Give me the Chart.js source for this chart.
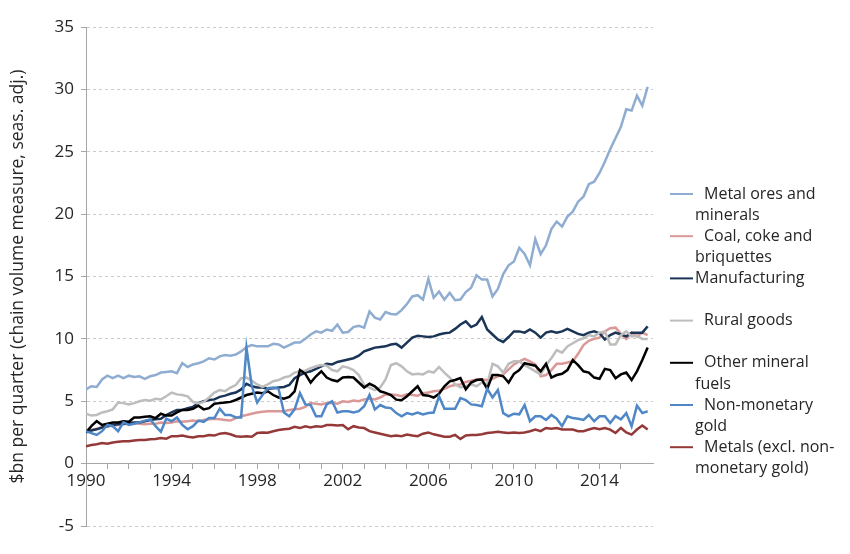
<!DOCTYPE html>
<html>
<head>
<meta charset="utf-8">
<title>Exports by commodity</title>
<script src="https://cdn.jsdelivr.net/npm/chart.js@4.4.0/dist/chart.umd.min.js"></script>
<style>
    html, body { margin: 0; padding: 0; background: #fff; }
</style>
</head>
<body>
<canvas id="exportsChart" width="850" height="554"></canvas>
<script>
// Quarterly series, 1990 Q1 to 2016 Q2 ($bn, chain volume, seas. adj.)
const quarters = [];
for (let y = 1990; y <= 2016; y++) {
    for (let q = 1; q <= 4; q++) quarters.push(y + ' Q' + q);
}
quarters.length = 106;

const yearLabels = [1990, 1994, 1998, 2002, 2006, 2010, 2014];

const metalOres = [
    5.95, 6.2, 6.15, 6.75, 7.05, 6.85, 7.05, 6.85, 7.05, 6.95, 7.0, 6.8, 7.0, 7.1, 7.3, 7.35,
    7.4, 7.25, 8.05, 7.75, 7.95, 8.05, 8.2, 8.45, 8.35, 8.6, 8.7, 8.65, 8.75, 9.0, 9.35, 9.5,
    9.4, 9.4, 9.4, 9.6, 9.55, 9.3, 9.5, 9.7, 9.7, 10.0, 10.35, 10.6, 10.5, 10.75, 10.65, 11.15,
    10.5, 10.55, 10.95, 11.05, 10.9, 12.2, 11.7, 11.55, 12.15, 12.0, 11.95, 12.3, 12.8, 13.4,
    13.5, 13.15, 14.8, 13.3, 13.8, 13.15, 13.7, 13.1, 13.15, 13.75, 14.1, 15.1, 14.75, 14.75,
    13.4, 14.0, 15.2, 15.9, 16.2, 17.3, 16.8, 15.9, 18.0, 16.8, 17.5, 18.8, 19.4, 19.0, 19.8,
    20.2, 21.0, 21.4, 22.4, 22.6, 23.3, 24.2, 25.2, 26.1, 27.0, 28.4, 28.3, 29.5, 28.7, 30.2
];
const coal = [
    2.6, 2.7, 2.8, 2.9, 3.0, 3.05, 3.1, 3.15, 3.2, 3.25, 3.2, 3.15, 3.2, 3.2, 3.3, 3.25,
    3.3, 3.4, 3.35, 3.4, 3.45, 3.4, 3.5, 3.55, 3.6, 3.55, 3.5, 3.45, 3.65, 3.8, 3.9, 4.0,
    4.1, 4.15, 4.2, 4.2, 4.2, 4.2, 4.3, 4.35, 4.4, 4.55, 4.85, 4.8, 4.75, 4.85, 4.85, 4.8,
    5.0, 4.95, 5.05, 5.0, 5.15, 5.2, 5.15, 5.3, 5.55, 5.55, 5.5, 5.4, 5.55, 5.5, 5.45, 5.65,
    5.7, 5.8, 5.85, 6.0, 6.2, 6.3, 6.35, 6.55, 6.65, 6.75, 6.75, 6.7, 6.8, 7.0, 7.15, 7.55,
    7.95, 8.2, 8.4, 8.2, 7.95, 7.0, 7.1, 7.5, 8.0, 8.0, 8.1, 8.2, 8.8, 9.5, 9.85, 10.0,
    10.1, 10.6, 10.85, 10.9, 10.4, 10.0, 10.5, 10.2, 10.5, 10.3
];
const manufacturing = [
    2.5, 2.65, 2.75, 2.9, 3.0, 3.1, 3.15, 3.2, 3.25, 3.3, 3.3, 3.4, 3.5, 3.55, 3.6, 3.9,
    4.1, 4.3, 4.3, 4.45, 4.55, 4.85, 5.0, 5.1, 5.15, 5.35, 5.45, 5.6, 5.7, 5.95, 6.4, 6.2,
    6.1, 6.1, 6.0, 6.05, 6.1, 6.15, 6.3, 6.85, 7.1, 7.3, 7.4, 7.6, 7.8, 8.0, 7.95, 8.15,
    8.25, 8.35, 8.45, 8.65, 9.0, 9.15, 9.3, 9.35, 9.4, 9.55, 9.6, 9.3, 9.7, 10.1, 10.25, 10.2,
    10.15, 10.2, 10.35, 10.45, 10.5, 10.8, 11.15, 11.4, 10.95, 11.15, 11.75, 10.75, 10.35, 9.95,
    9.75, 10.15, 10.6, 10.6, 10.5, 10.75, 10.5, 10.1, 10.5, 10.6, 10.5, 10.6, 10.8, 10.6, 10.4,
    10.3, 10.5, 10.6, 10.45, 9.95, 10.3, 10.5, 10.35, 10.2, 10.5, 10.5, 10.5, 11.0
];
const ruralGoods = [
    4.0, 3.85, 3.9, 4.1, 4.2, 4.35, 4.9, 4.85, 4.75, 4.85, 5.0, 5.1, 5.05, 5.2, 5.15, 5.4,
    5.7, 5.55, 5.5, 5.4, 4.95, 4.8, 4.95, 5.3, 5.7, 5.9, 5.8, 6.1, 6.3, 6.85, 6.9, 6.65,
    6.35, 6.15, 6.35, 6.6, 6.7, 6.9, 7.0, 7.3, 7.4, 7.45, 7.65, 7.8, 7.9, 7.85, 7.5, 7.4,
    7.8, 7.7, 7.5, 7.1, 6.3, 6.1, 5.9, 6.1, 6.75, 7.9, 8.05, 7.8, 7.4, 7.15, 7.2, 7.15,
    7.4, 7.3, 7.75, 7.3, 6.9, 6.35, 6.1, 6.2, 6.35, 6.2, 6.5, 6.35, 8.0, 7.8, 7.3, 8.0,
    8.2, 8.2, 7.9, 7.65, 7.4, 7.15, 7.9, 8.45, 9.1, 8.9, 9.4, 9.65, 9.9, 10.05, 10.3, 10.2,
    10.5, 10.6, 9.55, 9.55, 10.3, 10.6, 10.2, 10.25, 10.0, 10.0
];
const otherFuels = [
    2.5, 3.0, 3.4, 3.1, 3.2, 3.3, 3.3, 3.4, 3.35, 3.7, 3.7, 3.75, 3.8, 3.65, 4.0, 3.85,
    3.85, 4.1, 4.3, 4.3, 4.4, 4.65, 4.35, 4.45, 4.8, 4.85, 4.9, 4.95, 5.1, 5.3, 5.5, 5.6,
    5.7, 5.65, 5.8, 5.5, 5.3, 5.2, 5.35, 5.8, 7.5, 7.2, 6.5, 7.0, 7.4, 6.9, 6.7, 6.6,
    6.9, 6.95, 6.9, 6.5, 6.1, 6.4, 6.2, 5.8, 5.67, 5.5, 5.13, 5.08, 5.4, 5.8, 6.2, 5.5,
    5.45, 5.3, 5.6, 6.2, 6.6, 6.7, 6.85, 5.95, 6.5, 6.7, 6.75, 6.0, 7.1, 7.1, 7.0, 6.5,
    7.2, 7.5, 8.05, 7.95, 7.85, 7.4, 8.0, 6.9, 7.1, 7.2, 7.5, 8.3, 7.9, 7.4, 7.3, 6.9,
    6.8, 7.6, 7.5, 6.85, 7.15, 7.3, 6.7, 7.4, 8.3, 9.3
];
const nonMonetaryGold = [
    2.6, 2.45, 2.3, 2.6, 3.1, 3.0, 2.6, 3.3, 3.1, 3.2, 3.3, 3.45, 3.55, 3.0, 2.55, 3.6,
    3.4, 3.7, 3.1, 2.75, 3.0, 3.45, 3.35, 3.65, 3.65, 4.4, 3.9, 3.9, 3.7, 3.7, 9.3, 6.2,
    4.9, 5.5, 6.05, 6.1, 6.0, 4.1, 3.8, 4.35, 5.65, 4.75, 4.7, 3.8, 3.8, 4.75, 5.0, 4.1,
    4.2, 4.2, 4.1, 4.2, 4.6, 5.5, 4.35, 4.7, 4.5, 4.45, 4.05, 3.8, 4.05, 3.95, 4.1, 3.95,
    4.05, 4.1, 5.4, 4.4, 4.4, 4.4, 5.25, 5.1, 4.75, 4.7, 4.6, 6.0, 5.3, 5.9, 4.05, 3.8,
    4.0, 3.95, 4.7, 3.4, 3.8, 3.8, 3.5, 3.9, 3.6, 3.0, 3.8, 3.65, 3.6, 3.5, 3.9, 3.4,
    3.8, 3.8, 3.25, 3.8, 3.55, 4.05, 3.0, 4.65, 4.05, 4.2
];
const metals = [
    1.4, 1.5, 1.55, 1.65, 1.6, 1.7, 1.75, 1.8, 1.8, 1.85, 1.9, 1.9, 1.95, 1.97, 2.05, 2.0,
    2.2, 2.2, 2.25, 2.15, 2.1, 2.2, 2.2, 2.3, 2.25, 2.4, 2.45, 2.35, 2.2, 2.15, 2.2, 2.15,
    2.45, 2.5, 2.48, 2.6, 2.7, 2.75, 2.8, 2.95, 2.85, 3.0, 2.9, 3.0, 2.95, 3.1, 3.1, 3.05,
    3.1, 2.75, 3.0, 2.9, 2.85, 2.6, 2.5, 2.4, 2.3, 2.2, 2.25, 2.2, 2.33, 2.25, 2.2, 2.4,
    2.5, 2.35, 2.25, 2.15, 2.15, 2.3, 1.98, 2.25, 2.3, 2.3, 2.35, 2.45, 2.5, 2.55, 2.5, 2.45,
    2.5, 2.45, 2.5, 2.6, 2.73, 2.6, 2.86, 2.8, 2.86, 2.73, 2.73, 2.73, 2.6, 2.6, 2.73, 2.86,
    2.75, 2.86, 2.73, 2.46, 2.86, 2.5, 2.33, 2.73, 3.05, 2.73
];

const seriesNames = [
    'Metal ores and minerals',
    'Coal, coke and briquettes',
    'Manufacturing',
    'Rural goods',
    'Other mineral fuels',
    'Non-monetary gold',
    'Metals (excl. non-monetary gold)'
];
// how the legend wraps each name
const legendLines = [
    ['Metal ores and', 'minerals'],
    ['Coal, coke and', 'briquettes'],
    ['Manufacturing'],
    ['Rural goods'],
    ['Other mineral', 'fuels'],
    ['Non-monetary', 'gold'],
    ['Metals (excl. non-', 'monetary gold)']
];
const seriesData = [metalOres, coal, manufacturing, ruralGoods, otherFuels, nonMonetaryGold, metals];
const seriesColors = ['#8FACD1', '#DA9896', '#1B3556', '#BDBDBD', '#000000', '#4F87C7', '#953838'];

function quarterToYear(label) {
    const parts = label.split(' Q');
    return Number(parts[0]) + (Number(parts[1]) - 1) / 4;
}

const FONT = 'Open Sans';
const TEXT = '#262626';
const AXIS = '#A6A6A6';

// legend on the right, Excel style
const sideLegend = {
    id: 'sideLegend',
    afterDraw(chart) {
        const ctx = chart.ctx;
        const x0 = chart.chartArea.right + 17;
        ctx.save();
        ctx.font = '16px "' + FONT + '"';
        ctx.fillStyle = TEXT;
        ctx.textBaseline = 'middle';
        legendLines.forEach((lines, i) => {
            const y = 194 + i * 42.2;
            ctx.strokeStyle = seriesColors[i];
            ctx.lineWidth = 2;
            ctx.beginPath();
            ctx.moveTo(x0, y);
            ctx.lineTo(x0 + 23, y);
            ctx.stroke();
            lines.forEach((line, j) => {
                const indent = (j === 0 && i !== 2) ? 9 : 0;
                ctx.fillText(line, x0 + 25 + indent, y + j * 21.5);
            });
        });
        ctx.restore();
    }
};

const ctx = document.getElementById('exportsChart').getContext('2d');

const exportsChart = new Chart(ctx, {
    type: 'line',
    data: {
        datasets: seriesData.map((vals, i) => ({
            label: seriesNames[i],
            data: vals.map((v, k) => ({ x: quarterToYear(quarters[k]), y: v })),
            borderColor: seriesColors[i],
            backgroundColor: seriesColors[i],
            borderWidth: 2.5,
            pointRadius: 0,
            tension: 0,
            order: -i
        }))
    },
    options: {
        responsive: false,
        animation: false,
        layout: { padding: { top: 27, right: 197, bottom: 28, left: 8 } },
        plugins: {
            legend: { display: false },
            tooltip: { enabled: false }
        },
        scales: {
            x: {
                type: 'linear',
                position: { y: 0 },
                min: 1990,
                max: 2016.5,
                afterBuildTicks: (axis) => {
                    axis.ticks = axis.ticks.filter(t => Number.isInteger(t.value));
                },
                ticks: {
                    stepSize: 1,
                    autoSkip: false,
                    maxRotation: 0,
                    padding: 2,
                    color: TEXT,
                    font: { family: FONT, size: 17 },
                    callback: (v) => yearLabels.includes(v) ? String(v) : ''
                },
                grid: { drawOnChartArea: false, drawTicks: true, tickLength: 5, tickColor: AXIS },
                border: { color: AXIS, width: 1 }
            },
            y: {
                min: -5,
                max: 35,
                afterFit: (scale) => { scale.width = 78; },
                ticks: {
                    stepSize: 5,
                    padding: 7,
                    color: TEXT,
                    font: { family: FONT, size: 17 }
                },
                grid: {
                    color: (c) => c.tick && c.tick.value === 0 ? 'rgba(0,0,0,0)' : '#CBCBCB',
                    tickColor: AXIS,
                    tickLength: 5
                },
                border: { color: AXIS, width: 1, dash: [3, 3] },
                title: {
                    display: true,
                    text: '$bn per quarter (chain volume measure, seas. adj.)',
                    color: TEXT,
                    font: { family: FONT, size: 17.5 },
                    padding: { top: 0, bottom: 0 }
                }
            }
        }
    },
    plugins: [sideLegend]
});
</script>
</body>
</html>
